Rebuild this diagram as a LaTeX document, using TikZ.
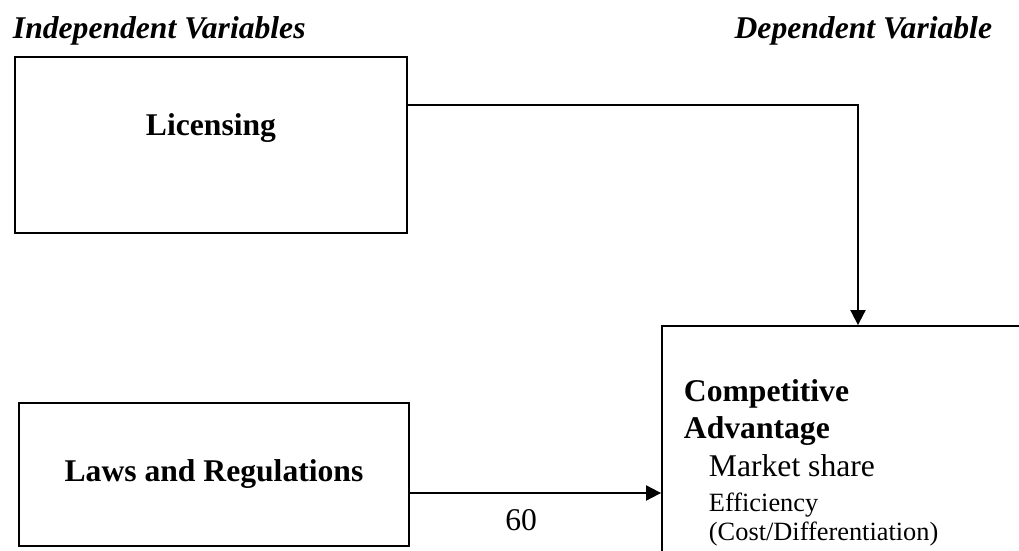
\documentclass[tikz,border=0pt]{standalone}
\usepackage{fontspec}
\setmainfont{Liberation Serif}
\usetikzlibrary{arrows.meta,positioning}

\begin{document}
\begin{tikzpicture}[x=0.02cm,y=-0.02cm,>={Triangle[length=0.3cm,width=0.3cm]},
                    line width=1.1pt,
                    varbox/.style={draw,rectangle,inner sep=0pt},
                    bigtxt/.style={inner sep=0pt,font=\fontsize{18}{21}\selectfont},
                    smalltxt/.style={inner sep=0pt,font=\fontsize{15}{18}\selectfont}]
  \clip (0,0) rectangle (1019,551);

  % headings
  \node[bigtxt,anchor=base west] (indep) at (12,38)  {\bfseries\itshape Independent Variables};
  \node[bigtxt,anchor=base east] (dep)   at (993,38) {\bfseries\itshape Dependent Variable};

  % independent variables
  \node[varbox,minimum width=7.84cm,minimum height=3.52cm] (lic) at (211,145) {};
  \node[bigtxt,anchor=base] (lictxt) at (211,135) {\bfseries Licensing};
  \node[varbox,bigtxt,minimum width=7.8cm,minimum height=2.86cm] (laws) at (214,474.5)
       {\bfseries Laws and Regulations};

  % dependent variable
  \node[varbox,minimum width=9.6cm,minimum height=6cm] (ca) at (902,476) {};
  \node[bigtxt,anchor=base west]   (ca1) at (683,401.7) {\bfseries Competitive};
  \node[bigtxt,anchor=base west]   (ca2) at (683,438)   {\bfseries Advantage};
  \node[bigtxt,anchor=base west]   (ca3) at (708,476)   {Market share};
  \node[smalltxt,anchor=base west] (ca4) at (708,511.7) {Efficiency};
  \node[smalltxt,anchor=base west] (ca5) at (708,540.5) {(Cost/Differentiation)};

  \coordinate (corner) at (858,105);
  \draw[->] (lic.east |- corner) -- (corner) -- (corner |- ca.north);
  \draw[->] (laws.east |- 0,493) -- (ca.west |- 0,493)
        node[bigtxt,pos=0.443,below=0.31cm] (lbl) {60};

\end{tikzpicture}
\end{document}
